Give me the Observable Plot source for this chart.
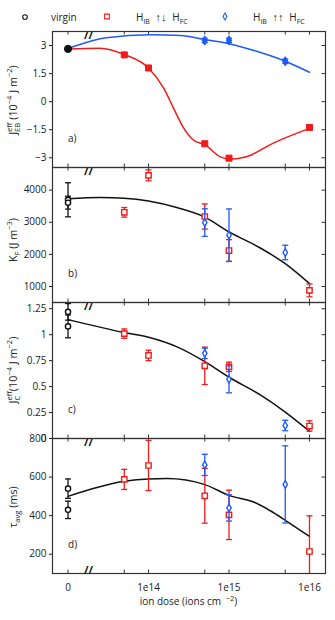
<!DOCTYPE html>
<html><head><meta charset="utf-8">
<script src="https://cdn.jsdelivr.net/npm/d3@7"></script>
<script src="https://cdn.jsdelivr.net/npm/@observablehq/plot@0.6"></script>
<style>
body{margin:0;background:#fff;font-family:"Open Sans",sans-serif;}
#wrap{position:relative;width:335px;height:620px;overflow:hidden;background:#fff;}
#wrap svg{position:absolute;left:0;}
</style></head><body><div id="wrap"></div>
<script>
// ---------- data ----------
const zeroDose = 1e13;            // where the virgin ("0") samples sit on the log axis
const breakDose = 1.8e13;         // axis break "//"
const xTickDoses = [1e13, 5e13, 1e14, 5e14, 1e15, 5e15, 1e16];
const xLabelDoses = [1e13, 1e14, 1e15, 1e16];
const xLabels = ["0", "1e14", "1e15", "1e16"];

const doseAnti = [5e13, 1e14, 5e14, 1e15, 1e16];   // H_IB antiparallel H_FC (red)
const dosePar = [5e14, 1e15, 5e15];                // H_IB parallel H_FC (blue)
const doseVirgin1 = [1e13];
const doseVirgin2 = [1e13, 1e13];

// panel a) J_EB^eff
const aVirgin = [2.82];
const aAnti = [2.50, 1.80, -2.25, -3.02, -1.38];
const aPar = [3.27, 3.28, 2.16];
const aParErr = [0.12, 0.12, 0.12];
const aAntiFitDose = [1e13, 2.5e13, 5e13, 1e14, 1.55e14, 2.05e14, 2.75e14, 3.6e14, 5e14, 7.8e14, 1.05e15, 1.65e15, 3.5e15, 1e16];
const aAntiFit = [2.82, 2.86, 2.52, 1.80, 0.71, -0.36, -1.43, -2.05, -2.30, -2.95, -3.08, -2.95, -2.23, -1.43];
const aParFitDose = [1e13, 3e13, 1.05e14, 2.5e14, 5e14, 1e15, 2.2e15, 5e15, 1e16];
const aParFit = [2.84, 3.41, 3.57, 3.53, 3.32, 3.10, 2.69, 2.16, 1.57];
const aTicks = [-3, -1.5, 0, 1.5, 3];
const aTickText = ["\u22123", "\u22121.5", "0", "1.5", "3"];

// panel b) K_F
const bVirgin = [3700, 3610];
const bVirginErr = [530, 200];
const bAnti = [3310, 4460, 3180, 2120, 880];
const bAntiErr = [150, 170, 390, 340, 200];
const bPar = [2990, 2600, 2060];
const bParErr = [430, 815, 225];
const bFitDose = [1e13, 2.5e13, 5e13, 1e14, 2.3e14, 5e14, 1e15, 2.45e15, 5e15, 1e16];
const bFit = [3735, 3775, 3750, 3660, 3450, 3160, 2700, 2200, 1710, 1090];
const bTicks = [1000, 2000, 3000, 4000];
const bTickText = ["1000", "2000", "3000", "4000"];

// panel c) J_C^eff
const cVirgin = [1.22, 1.08];
const cVirginErr = [0.08, 0.11];
const cAnti = [1.01, 0.80, 0.70, 0.69, 0.12];
const cAntiErr = [0.045, 0.05, 0.18, 0.045, 0.05];
const cPar = [0.82, 0.57, 0.125];
const cParErr = [0.05, 0.13, 0.05];
const cFitDose = [1e13, 5e13, 1e14, 2.3e14, 5e14, 1e15, 2.45e15, 5e15, 1e16];
const cFit = [1.145, 1.02, 0.975, 0.88, 0.74, 0.59, 0.42, 0.255, 0.07];
const cTicks = [0, 0.25, 0.5, 0.75, 1, 1.25];
const cTickText = ["0", "0.25", "0.5", "0.75", "1", "1.25"];

// panel d) tau_avg
const dVirgin = [540, 430];
const dVirginErr = [50, 45];
const dAnti = [588, 660, 503, 404, 214];
const dAntiErr = [52, 130, 142, 128, 185];
const dPar = [663, 440, 562];
const dParErr = [55, 68, 200];
const dFitDose = [1e13, 5e13, 1e14, 1.7e14, 5e14, 1e15, 2.1e15, 3.3e15, 5e15, 1e16];
const dFit = [500, 578, 590, 592, 561, 505, 468, 424, 376, 292];
const dTicks = [200, 400, 600, 800];
const dTickText = ["200", "400", "600", "800"];

// ---------- styling ----------
const W = 335, ML = 52, MR = 10;
const FW = W - ML - MR;
const RED = "#f21a1a", BLUE = "#1f5af5", BLACK = "#111", FRAME = "#333", TXT = "#222";
const xDomain = [Math.pow(10, 12.807), Math.pow(10, 16.199)];
const capSymbol = {draw(ctx, size) { const r = Math.sqrt(size / Math.PI); ctx.moveTo(-r, 0); ctx.lineTo(r, 0); }};

function rows(doses, vals, errs) {
  return doses.map((d, i) => ({dose: d, v: vals[i], e: errs ? errs[i] : 0}));
}
function seriesMarks(doses, vals, errs, color, symbol, r, filled) {
  const data = rows(doses, vals, errs);
  const out = [];
  if (errs) {
    out.push(Plot.ruleX(data, {x: "dose", y1: d => d.v - d.e, y2: d => d.v + d.e, stroke: color, strokeWidth: 1.3, clip: true}));
    out.push(Plot.dot(data, {x: "dose", y: d => d.v + d.e, symbol: capSymbol, r: 3, stroke: color, strokeWidth: 1.3, fill: "none", clip: true}));
    out.push(Plot.dot(data, {x: "dose", y: d => d.v - d.e, symbol: capSymbol, r: 3, stroke: color, strokeWidth: 1.3, fill: "none", clip: true}));
  }
  out.push(Plot.dot(data, {x: "dose", y: "v", symbol, r, stroke: color, strokeWidth: filled ? 1 : 1.4, fill: filled ? color : "white"}));
  return out;
}
function fitMark(doses, vals, color) {
  return Plot.line(rows(doses, vals), {x: "dose", y: "v", stroke: color, strokeWidth: 1.5, curve: "monotone-x"});
}

const wrap = document.getElementById("wrap");

// rich text helper: pieces laid out left to right, optionally stacked
function richText(parent, x, y, pieces, rotate, anchor, base) {
  const bs = base || 10;
  const g = parent.append("g").attr("transform", `translate(${x},${y}) rotate(${rotate || 0})`)
    .attr("text-anchor", "start");
  const inner = g.append("g");
  let cursor = 0, prevStart = 0, prevW = 0;
  for (const p of pieces) {
    const start = p.over ? prevStart : cursor;
    const size = p.size ? p.size * bs / 10 : bs;
    const t = inner.append("text").attr("x", start).attr("y", (p.dy || 0) * bs / 10)
      .attr("text-anchor", "start").attr("fill", TXT).style("font-size", size + "px")
      .style("font-family", '"Open Sans", sans-serif').style("white-space", "pre").text(p.t);
    const w = t.node().getComputedTextLength();
    if (p.over) { cursor = start + Math.max(prevW, w); }
    else { cursor = start + w; prevStart = start; prevW = w; }
  }
  const shift = anchor === "start" ? 0 : -cursor / 2;
  inner.attr("transform", `translate(${shift},0)`);
  return g;
}

function panel(cfg) {
  const {top, h, mb = 0, yDomain, yTicks, yTickText, letter, marks, breakBottom, xAxis} = cfg;
  const all = [
    Plot.ruleX(xTickDoses, {x: d => d, insetBottom: h - 3.5, stroke: FRAME, strokeWidth: 1}),
    Plot.ruleX(xTickDoses, {x: d => d, insetTop: h - 3.5, stroke: FRAME, strokeWidth: 1}),
    Plot.ruleY(yTicks, {y: d => d, insetLeft: FW - 3.5, stroke: FRAME, strokeWidth: 1}),
    ...marks,
    Plot.text([letter], {x: zeroDose, frameAnchor: "bottom", dy: -26, text: d => d, textAnchor: "start", fontSize: 10, fill: TXT}),
    Plot.text(["//"], {x: breakDose, frameAnchor: "top", text: d => d, fontSize: 11, fontWeight: "bold", fill: BLACK}),
    Plot.frame({stroke: FRAME, strokeWidth: 1.2})
  ];
  if (breakBottom) all.push(Plot.text(["//"], {x: breakDose, frameAnchor: "bottom", text: d => d, fontSize: 11, fontWeight: "bold", fill: BLACK}));
  const xOpts = xAxis
    ? {type: "log", domain: xDomain, ticks: xLabelDoses, tickFormat: d => xLabels[xLabelDoses.indexOf(d)], tickSize: 0, tickPadding: 10, label: null}
    : {type: "log", domain: xDomain, axis: null};
  const svg = Plot.plot({
    width: W, height: h + mb, marginLeft: ML, marginRight: MR, marginTop: 0, marginBottom: mb,
    style: {background: "transparent", overflow: "visible", fontFamily: '"Open Sans", sans-serif', fontSize: "10px", color: TXT},
    x: xOpts,
    y: {domain: yDomain, ticks: yTicks, tickFormat: d => yTickText[yTicks.indexOf(d)], tickSize: 3, tickPadding: 3, label: null},
    marks: all
  });
  svg.style.top = top + "px";
  wrap.appendChild(svg);
  return d3.select(svg);
}

const YL = 10.8; // y-label font size

// panel a
const sa = panel({
  top: 31, h: 136, yDomain: [-3.52, 3.75], yTicks: aTicks, yTickText: aTickText, letter: "a)",
  marks: [
    fitMark(aAntiFitDose, aAntiFit, RED),
    fitMark(aParFitDose, aParFit, BLUE),
    ...seriesMarks(dosePar, aPar, aParErr, BLUE, "diamond", 2.8, true),
    ...seriesMarks(doseAnti, aAnti, null, RED, "square", 3.4, true),
    ...seriesMarks(doseVirgin1, aVirgin, null, BLACK, "circle", 3.6, true)
  ]
});
richText(sa, 16.5, 100 - 31, [
  {t: "J"}, {t: "eff", size: 7, dy: -4.5}, {t: "EB", size: 7, dy: 3, over: true},
  {t: " (10"}, {t: "\u22124", size: 7, dy: -4.5}, {t: " J m"}, {t: "\u22122", size: 7, dy: -4.5}, {t: ")"}
], -90, "middle", YL);

// panel b
const sb = panel({
  top: 167, h: 135, yDomain: [503, 4705], yTicks: bTicks, yTickText: bTickText, letter: "b)",
  marks: [
    fitMark(bFitDose, bFit, BLACK),
    ...seriesMarks(doseVirgin2, bVirgin, bVirginErr, BLACK, "circle", 2.6, false),
    ...seriesMarks(doseAnti, bAnti, bAntiErr, RED, "square", 3.0, false),
    ...seriesMarks(dosePar, bPar, bParErr, BLUE, "diamond", 2.3, false)
  ]
});
richText(sb, 16.5, 240 - 167, [
  {t: "K"}, {t: "F", size: 7, dy: 3}, {t: " (J m"}, {t: "\u22123", size: 7, dy: -4.5}, {t: ")"}
], -90, "middle", YL);

// panel c
const sc = panel({
  top: 302, h: 136, yDomain: [0, 1.31], yTicks: cTicks, yTickText: cTickText, letter: "c)",
  marks: [
    fitMark(cFitDose, cFit, BLACK),
    ...seriesMarks(doseVirgin2, cVirgin, cVirginErr, BLACK, "circle", 2.6, false),
    ...seriesMarks(doseAnti, cAnti, cAntiErr, RED, "square", 3.0, false),
    ...seriesMarks(dosePar, cPar, cParErr, BLUE, "diamond", 2.3, false)
  ]
});
richText(sc, 16.5, 370 - 302, [
  {t: "J"}, {t: "eff", size: 7, dy: -4.5}, {t: "C", size: 7, dy: 3, over: true},
  {t: "(10"}, {t: "\u22124", size: 7, dy: -4.5}, {t: " J m"}, {t: "\u22122", size: 7, dy: -4.5}, {t: ")"}
], -90, "middle", YL);

// panel d
const sd = panel({
  top: 438, h: 135, mb: 47, yDomain: [100, 800], yTicks: dTicks, yTickText: dTickText, letter: "d)", breakBottom: true, xAxis: true,
  marks: [
    fitMark(dFitDose, dFit, BLACK),
    ...seriesMarks(doseVirgin2, dVirgin, dVirginErr, BLACK, "circle", 2.6, false),
    ...seriesMarks(doseAnti, dAnti, dAntiErr, RED, "square", 3.0, false),
    ...seriesMarks(dosePar, dPar, dParErr, BLUE, "diamond", 2.3, false)
  ]
});
richText(sd, 16.5, 507 - 438, [
  {t: "\u03C4"}, {t: "avg", size: 7, dy: 3}, {t: " (ms)"}
], -90, "middle", YL);
richText(sd, 188.5, 605 - 438, [
  {t: "ion dose (ions cm  "}, {t: "\u22122", size: 7, dy: -4.5}, {t: ")"}
], 0);

// legend
const leg = d3.select(wrap).append("svg").attr("width", W).attr("height", 31).style("top", "0px");
leg.append("path").attr("d", d3.symbol(d3.symbolCircle, Math.PI * 2.3 * 2.3)()).attr("transform", "translate(25,17)")
  .attr("fill", "none").attr("stroke", BLACK).attr("stroke-width", 1.1);
leg.append("path").attr("d", d3.symbol(d3.symbolSquare, 22)()).attr("transform", "translate(107,16.5)")
  .attr("fill", "none").attr("stroke", RED).attr("stroke-width", 1.1);
leg.append("path").attr("d", d3.symbol(d3.symbolDiamond, 14)()).attr("transform", "translate(225,16.5)")
  .attr("fill", "none").attr("stroke", BLUE).attr("stroke-width", 1.1);
richText(leg, 51, 20.5, [{t: "virgin"}], 0, "start");
richText(leg, 136, 20.5, [{t: "H"}, {t: "IB", size: 7, dy: 3}, {t: "  \u2191\u2193  ", size: 11}, {t: "H"}, {t: "FC", size: 7, dy: 3}], 0, "start");
richText(leg, 253, 20.5, [{t: "H"}, {t: "IB", size: 7, dy: 3}, {t: "  \u2191\u2191  ", size: 11}, {t: "H"}, {t: "FC", size: 7, dy: 3}], 0, "start");
</script></body></html>
